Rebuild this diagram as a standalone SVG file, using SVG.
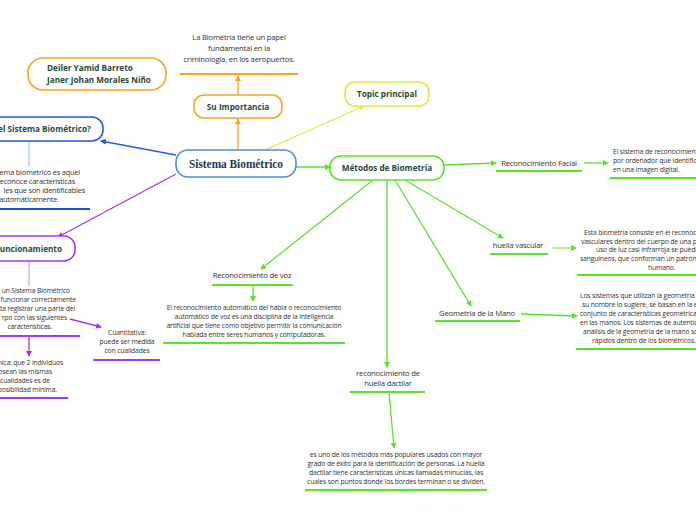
<svg xmlns="http://www.w3.org/2000/svg" width="696" height="520" viewBox="0 0 696 520">
<style>
.node{fill:#fff;stroke-width:1.6}
.lbl{font-family:"Open Sans","Noto Sans",sans-serif;font-weight:bold;font-size:8.2px;fill:#1e4a3c}
.txt{font-family:"Open Sans","Noto Sans",sans-serif;font-size:6.8px;fill:#333;letter-spacing:-0.15px}
.sub{font-family:"Open Sans","Noto Sans",sans-serif;font-size:7.7px;fill:#333;letter-spacing:-0.2px}
.sm{font-family:"Open Sans","Noto Sans",sans-serif;font-size:7.4px;fill:#333;letter-spacing:-0.2px}
.c{text-anchor:middle}
.e{text-anchor:end}
.ln{fill:none;stroke-width:1.3}
</style>
<defs>
<marker id="aO" viewBox="0 0 6 6" refX="5" refY="3" markerWidth="6" markerHeight="6" orient="auto" markerUnits="userSpaceOnUse"><path d="M0,0L6,3L0,6z" fill="#ffa31a"/></marker>
<marker id="aY" viewBox="0 0 6 6" refX="5" refY="3" markerWidth="6" markerHeight="6" orient="auto" markerUnits="userSpaceOnUse"><path d="M0,0L6,3L0,6z" fill="#d4ee3c"/></marker>
<marker id="aG" viewBox="0 0 6 6" refX="5" refY="3" markerWidth="6" markerHeight="6" orient="auto" markerUnits="userSpaceOnUse"><path d="M0,0L6,3L0,6z" fill="#55e62a"/></marker>
<marker id="aB" viewBox="0 0 6 6" refX="5" refY="3" markerWidth="6" markerHeight="6" orient="auto" markerUnits="userSpaceOnUse"><path d="M0,0L6,3L0,6z" fill="#1f5ee0"/></marker>
<marker id="aP" viewBox="0 0 6 6" refX="5" refY="3" markerWidth="6" markerHeight="6" orient="auto" markerUnits="userSpaceOnUse"><path d="M0,0L6,3L0,6z" fill="#a238f0"/></marker>
</defs>
<rect width="696" height="520" fill="#fff"/>

<g id="connectors">
<line class="ln" x1="238" y1="150" x2="238" y2="119" stroke="#ffa31a" marker-end="url(#aO)"/>
<line class="ln" x1="238" y1="95" x2="238" y2="76" stroke="#ffa31a" marker-end="url(#aO)"/>
<line class="ln" x1="265" y1="150" x2="364" y2="106" stroke="#d4ee3c" marker-end="url(#aY)"/>
<line class="ln" x1="296" y1="167" x2="330" y2="167" stroke="#55e62a" marker-end="url(#aG)"/>
<line class="ln" x1="176" y1="155" x2="101" y2="141" stroke="#1f5ee0" marker-end="url(#aB)"/>
<line x1="29" y1="141" x2="29" y2="166" stroke="#a9c3f5" stroke-width="1.3"/>
<line class="ln" x1="176" y1="174" x2="58" y2="237" stroke="#a238f0" marker-end="url(#aP)"/>
<line x1="29" y1="261" x2="29" y2="286" stroke="#d3a6f5" stroke-width="1.3"/>
<line class="ln" x1="29" y1="336" x2="29" y2="356" stroke="#a238f0" marker-end="url(#aP)"/>
<line class="ln" x1="70" y1="319" x2="101" y2="327" stroke="#a238f0" marker-end="url(#aP)"/>
<line class="ln" x1="444" y1="165" x2="496" y2="163" stroke="#55e62a" marker-end="url(#aG)"/>
<line class="ln" x1="584" y1="163" x2="608" y2="163" stroke="#55e62a" marker-end="url(#aG)"/>
<line class="ln" x1="405" y1="180" x2="503" y2="238" stroke="#55e62a" marker-end="url(#aG)"/>
<line class="ln" x1="552" y1="248" x2="576" y2="248" stroke="#7fec5a" marker-end="url(#aG)"/>
<line class="ln" x1="395" y1="180" x2="471" y2="306" stroke="#55e62a" marker-end="url(#aG)"/>
<line class="ln" x1="521" y1="314" x2="577" y2="316" stroke="#55e62a" marker-end="url(#aG)"/>
<line class="ln" x1="373" y1="180" x2="261" y2="269" stroke="#55e62a" marker-end="url(#aG)"/>
<line class="ln" x1="253" y1="285" x2="253" y2="301" stroke="#55e62a" marker-end="url(#aG)"/>
<line class="ln" x1="387" y1="180" x2="387" y2="367" stroke="#55e62a" marker-end="url(#aG)"/>
<line class="ln" x1="389" y1="392" x2="394" y2="448" stroke="#55e62a" marker-end="url(#aG)"/>
</g>

<g id="n-importancia-texto">
<text class="sub c" x="239" y="40">La Biométria tiene un papel</text>
<text class="sub c" x="239" y="51">fundamental en la</text>
<text class="sub c" x="239" y="62">criminología, en los aeropuertos.</text>
<line x1="180" y1="74" x2="298" y2="74" stroke="#ffa31a" stroke-width="1.8"/>
</g>

<g id="n-autores">
<rect class="node" x="28" y="58" width="138" height="32" rx="15" stroke="#ffa31a"/>
<text class="lbl" x="47" y="71">Deiler Yamid Barreto</text>
<text class="lbl" x="47" y="83">Janer Johan Morales Niño</text>
</g>

<g id="n-importancia">
<rect class="node" x="194" y="95" width="88" height="23" rx="10" stroke="#ffa31a"/>
<text class="lbl c" x="238" y="110">Su Importancia</text>
</g>

<g id="n-topic">
<rect class="node" x="345" y="82" width="84" height="24" rx="10" stroke="#d4ee3c"/>
<text class="lbl c" x="387" y="97">Topic principal</text>
</g>

<g id="n-central">
<rect class="node" x="176" y="150" width="120" height="27" rx="12" stroke="#4a8fd8"/>
<text x="189" y="168" textLength="94" lengthAdjust="spacingAndGlyphs" font-family="Liberation Serif,serif" font-weight="bold" font-size="13" fill="#1b3656">Sistema Biométrico</text>
</g>

<g id="n-metodos">
<rect class="node" x="330" y="156" width="114" height="24" rx="11" stroke="#55e62a"/>
<text class="lbl c" x="387" y="171">Métodos de Biometría</text>
</g>

<g id="n-que-es">
<rect class="node" x="-20" y="117" width="123" height="24" rx="11" stroke="#1f5ee0"/>
<text class="lbl e" x="91" y="132">el Sistema Biométrico?</text>
<text class="sm e" x="80" y="175">ema biométrico es aquel</text>
<text class="sm e" x="75" y="184">reconoce características</text>
<text class="sm e" x="85" y="193">les que son identificables</text>
<text class="sm e" x="59" y="202">automáticamente.</text>
<line x1="0" y1="209" x2="90" y2="209" stroke="#1f4fc8" stroke-width="1.8"/>
</g>

<g id="n-funcionamiento">
<rect class="node" x="-20" y="236" width="95" height="25" rx="11" stroke="#a238f0"/>
<text class="lbl e" x="62" y="252">uncionamiento</text>
<text class="txt e" x="70" y="293">a un  Sistema Biométrico</text>
<text class="txt e" x="76" y="302">funcionar correctamente</text>
<text class="txt e" x="75" y="311">ita registrar una parte del</text>
<text class="txt e" x="67" y="320">rpo con las siguientes</text>
<text class="txt e" x="52" y="329">características.</text>
<line x1="0" y1="336" x2="80" y2="336" stroke="#a238f0" stroke-width="1.8"/>
</g>

<g id="n-cuantitativa">
<text class="txt c" x="127" y="335">Cuantitativa:</text>
<text class="txt c" x="127" y="344">puede ser medida</text>
<text class="txt c" x="127" y="353">con cualidades</text>
<line x1="93" y1="360" x2="160" y2="360" stroke="#a238f0" stroke-width="1.8"/>
</g>

<g id="n-unica">
<text class="txt e" x="63" y="365">nica: que 2 individuos</text>
<text class="txt e" x="52" y="374">posean las mismas</text>
<text class="txt e" x="50" y="383">cualidades es de</text>
<text class="txt e" x="57" y="392">posibilidad mínima.</text>
<line x1="0" y1="398" x2="68" y2="398" stroke="#a238f0" stroke-width="1.8"/>
</g>

<g id="n-facial">
<text class="sub c" x="539" y="166">Reconocimiento Facial</text>
<line x1="496" y1="171" x2="582" y2="171" stroke="#55e62a" stroke-width="1.8"/>
<text class="txt" x="613" y="154">El sistema de reconocimiento</text>
<text class="txt" x="613" y="163">por ordenador que identifica a</text>
<text class="txt" x="613" y="172">en una imagen digital.</text>
<line x1="610" y1="178" x2="696" y2="178" stroke="#55e62a" stroke-width="1.8"/>
</g>

<g id="n-vascular">
<text class="sub c" x="518" y="248">huella vascular</text>
<line x1="490" y1="254" x2="548" y2="254" stroke="#55e62a" stroke-width="1.8"/>
<text class="txt" x="584" y="235">Esta biometría consiste en el reconoci</text>
<text class="txt" x="581" y="244">vasculares dentro del cuerpo de una p</text>
<text class="txt" x="596" y="252">uso de luz casi infrarroja se pueden</text>
<text class="txt" x="580" y="261">sanguíneos, que conforman un patrón</text>
<text class="txt" x="648" y="270">humano.</text>
<line x1="577" y1="275" x2="696" y2="275" stroke="#55e62a" stroke-width="1.8"/>
</g>

<g id="n-mano">
<text class="sub c" x="477" y="316">Geometria de la Mano</text>
<line x1="435" y1="321" x2="520" y2="321" stroke="#55e62a" stroke-width="1.8"/>
<text class="txt" x="580" y="298">Los sistemas que utilizan la geometría d</text>
<text class="txt" x="582" y="307">su nombre lo sugiere, se basan en la ex</text>
<text class="txt" x="580" y="316">conjunto de características geométrica</text>
<text class="txt" x="580" y="325">en las manos. Los sistemas de autentic</text>
<text class="txt" x="583" y="334">análisis de la geometría de la mano son</text>
<text class="txt" x="592" y="343">rápidos dentro de los biométricos.</text>
<line x1="576" y1="349" x2="696" y2="349" stroke="#55e62a" stroke-width="1.8"/>
</g>

<g id="n-voz">
<text class="sub c" x="252" y="278">Reconocimiento de voz</text>
<line x1="212" y1="285" x2="293" y2="285" stroke="#55e62a" stroke-width="1.8"/>
<text class="txt c" x="254" y="310">El reconocimiento automático del habla o reconocimiento</text>
<text class="txt c" x="254" y="319">automático de voz es una disciplina de la inteligencia</text>
<text class="txt c" x="254" y="328">artificial que tiene como objetivo permitir la comunicación</text>
<text class="txt c" x="254" y="337">hablada entre seres humanos y computadoras.</text>
<line x1="163" y1="343" x2="345" y2="343" stroke="#55e62a" stroke-width="1.8"/>
</g>

<g id="n-dactilar">
<text class="sub c" x="388" y="376">reconocimiento de</text>
<text class="sub c" x="388" y="386">huella dactilar</text>
<line x1="350" y1="392" x2="425" y2="392" stroke="#55e62a" stroke-width="1.8"/>
<text class="txt c" x="396" y="457">es uno de los métodos más populares usados con mayor</text>
<text class="txt c" x="396" y="466">grado de éxito para la identificación de personas. La huella</text>
<text class="txt c" x="396" y="475">dactilar tiene características únicas llamadas minucias, las</text>
<text class="txt c" x="396" y="484">cuales son puntos donde los bordes terminan o se dividen.</text>
<line x1="305" y1="490" x2="487" y2="490" stroke="#55e62a" stroke-width="1.8"/>
</g>
</svg>
